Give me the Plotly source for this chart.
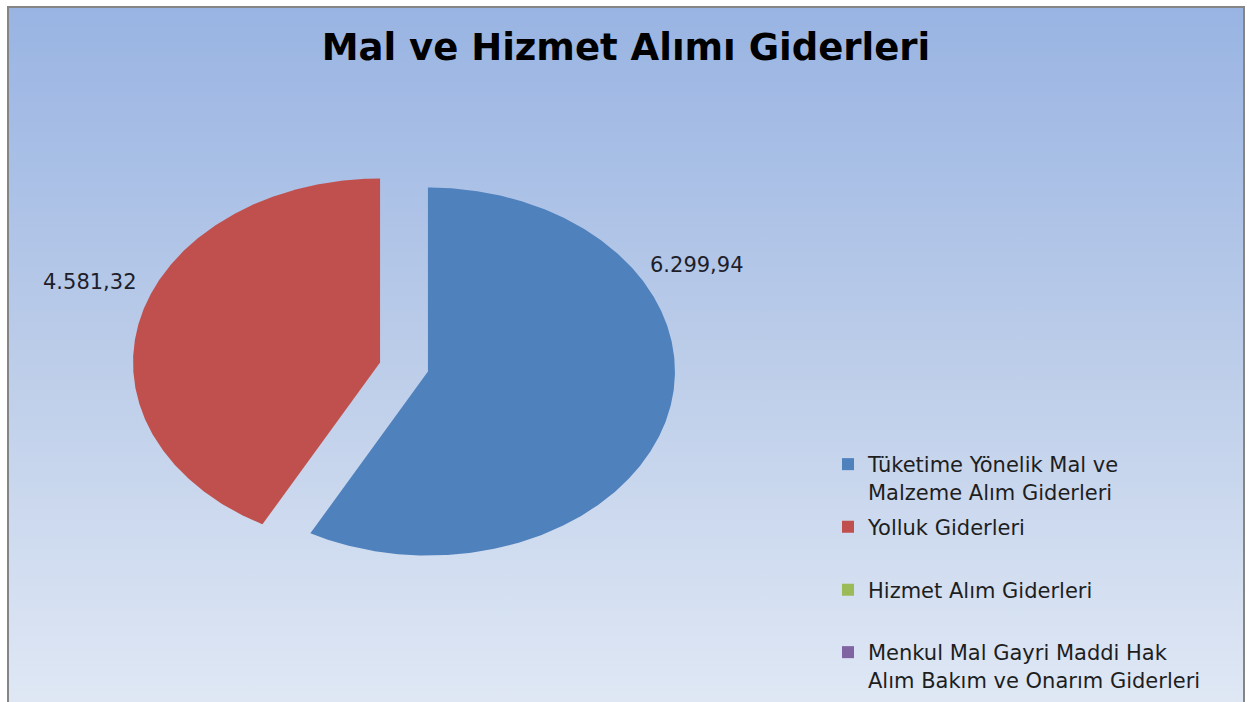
import numpy as np
import plotly.graph_objects as go

# ---- data ----
categories = [
    "Tüketime Yönelik Mal ve Malzeme Alım Giderleri",
    "Yolluk Giderleri",
    "Hizmet Alım Giderleri",
    "Menkul Mal Gayri Maddi Hak Alım Bakım ve Onarım Giderleri",
]
legend_labels = [
    "Tüketime Yönelik Mal ve<br>Malzeme Alım Giderleri",
    "Yolluk Giderleri",
    "Hizmet Alım Giderleri",
    "Menkul Mal Gayri Maddi Hak<br>Alım Bakım ve Onarım Giderleri",
]
values = [6299.94, 4581.32, 0.0, 0.0]
colors = ["#4f81bd", "#c0504d", "#9bbb59", "#8064a2"]
title_text = "Mal ve Hizmet Alımı Giderleri"

# ---- style / layout constants ----
W, H = 1250, 702
CX, CY = 404, 367          # pie centre, px
RX, RY = 247, 184          # pie radii, px (chart is stretched horizontally)
PULL = 0.1

def fmt_tr(v):
    s = f"{v:,.2f}"
    return s.replace(",", "X").replace(".", ",").replace("X", ".")

fig = go.Figure()

total = sum(values)
start = 0.0
for cat, v, c in zip(categories, values, colors):
    span = 360.0 * v / total
    end = start + span
    mid = np.radians((start + end) / 2)
    ox, oy = PULL * np.sin(mid), PULL * np.cos(mid)
    t = np.radians(np.linspace(start, end, max(2, int(span * 2) + 2)))
    xs = np.concatenate([[ox], ox + np.sin(t), [ox]])
    ys = np.concatenate([[oy], oy + np.cos(t), [oy]])
    fig.add_trace(go.Scatter(
        x=xs, y=ys, mode="lines", fill="toself", fillcolor=c,
        line=dict(width=0, color=c), showlegend=False, hoverinfo="text",
        text=f"{cat}: {fmt_tr(v)}", name=cat,
    ))
    start = end

legend_names = ["legend", "legend2", "legend3", "legend4"]
legend_centers_px = [478, 527, 590, 666]
for lab, c, ln in zip(legend_labels, colors, legend_names):
    fig.add_trace(go.Scatter(
        x=[None], y=[None], mode="markers",
        marker=dict(symbol="square", size=12, color=c),
        name=lab, legend=ln, showlegend=True,
    ))

leg_font = dict(family="DejaVu Sans", size=21, color="#1e1e1e")
leg_common = dict(x=828 / W, xanchor="left", yanchor="middle",
                  bgcolor="rgba(0,0,0,0)", font=leg_font, valign="top",
                  itemclick=False, itemdoubleclick=False)
layout_legends = {}
for ln, cy in zip(legend_names, legend_centers_px):
    layout_legends[ln] = dict(y=1 - cy / H, **leg_common)

# data labels (outside, best-fit positions as in reference)
label_pos_px = [(697, 265), (90, 282)]
for v, (px, py) in zip(values, label_pos_px):
    fig.add_annotation(
        x=px / W, y=1 - py / H, xref="paper", yref="paper",
        text=fmt_tr(v), showarrow=False,
        font=dict(family="DejaVu Sans", size=21, color="#1e1e2a"),
        xanchor="center", yanchor="middle",
    )

# gradient background via svg data uri
svg = (
    "<svg xmlns='http://www.w3.org/2000/svg' width='100' height='100' preserveAspectRatio='none'>"
    "<defs><linearGradient id='g' x1='0' y1='0' x2='0' y2='1'>"
    "<stop offset='0' stop-color='%2399b4e3'/>"
    "<stop offset='0.5' stop-color='%23bccde9'/>"
    "<stop offset='1' stop-color='%23e0e8f5'/>"
    "</linearGradient></defs>"
    "<rect width='100' height='100' fill='url(%23g)'/></svg>"
)
bg_src = "data:image/svg+xml;utf8," + svg

L, T, R = 8, 7, 1244
fig.add_layout_image(dict(
    source=bg_src, xref="paper", yref="paper",
    x=L / W, y=1 - T / H, sizex=(R - L) / W, sizey=(H - T) / H + 0.01,
    xanchor="left", yanchor="top", sizing="stretch", layer="below",
))
fig.add_shape(type="rect", xref="paper", yref="paper",
              x0=L / W, x1=R / W, y0=-0.01, y1=1 - T / H,
              line=dict(color="#858585", width=2), fillcolor="rgba(0,0,0,0)")

fig.update_layout(
    width=W, height=H,
    margin=dict(l=0, r=0, t=0, b=0),
    paper_bgcolor="white", plot_bgcolor="rgba(0,0,0,0)",
    title=dict(text=f"<b>{title_text}</b>", x=626 / W, xanchor="center",
               y=1 - 47 / H, yanchor="middle",
               font=dict(family="DejaVu Sans", size=37, color="#000000")),
    xaxis=dict(range=[-CX / RX, (W - CX) / RX], visible=False, fixedrange=True),
    yaxis=dict(range=[-(H - CY) / RY, CY / RY], visible=False, fixedrange=True),
    **layout_legends,
)

fig.write_html(
    "out.html",
    config={"displayModeBar": False},
    post_script="document.body.style.margin='0';document.body.style.overflow='hidden';",
)
